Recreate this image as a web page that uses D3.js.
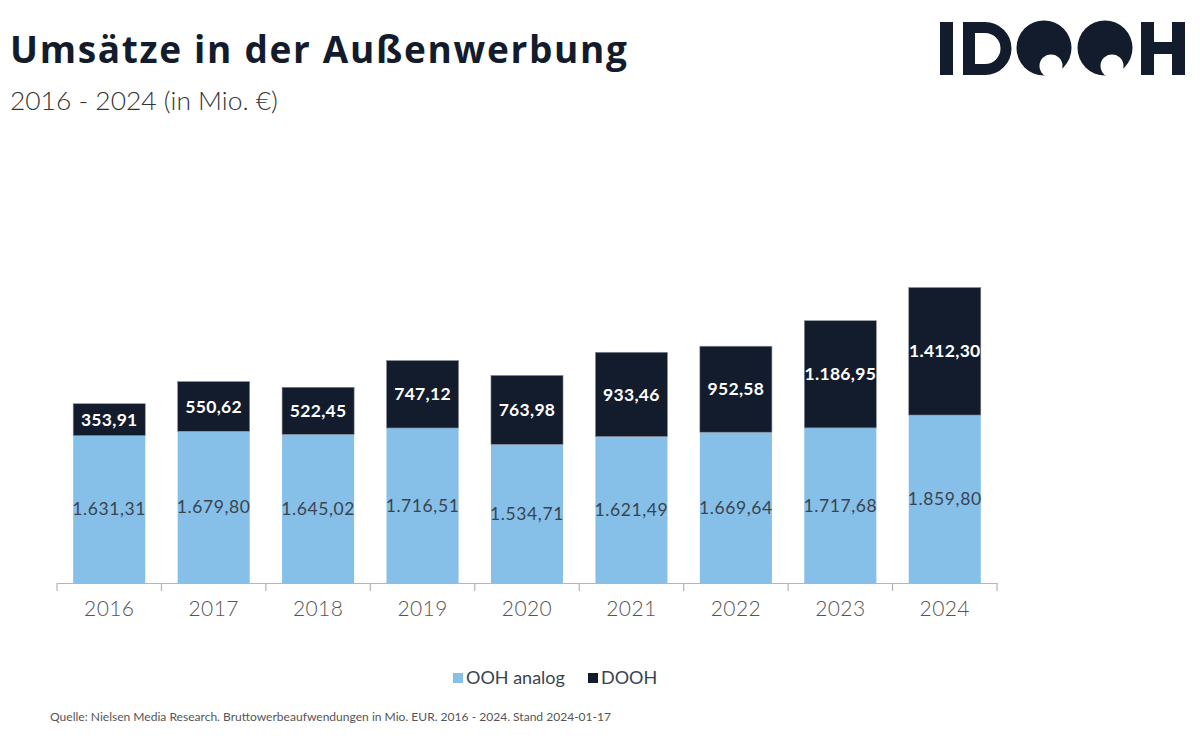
<!DOCTYPE html>
<html><head><meta charset="utf-8">
<script src="https://cdn.jsdelivr.net/npm/d3@7"></script>
<style>
html,body{margin:0;padding:0;background:#fff;}
svg{display:block;font-family:Lato,"Open Sans",sans-serif;}
</style></head>
<body>
<svg id="c" width="1200" height="750"></svg>
<script>
const years = ["2016","2017","2018","2019","2020","2021","2022","2023","2024"];
const oohAnalog = [1631.31,1679.80,1645.02,1716.51,1534.71,1621.49,1669.64,1717.68,1859.80];
const dooh = [353.91,550.62,522.45,747.12,763.98,933.46,952.58,1186.95,1412.30];
const seriesNames = ["OOH analog","DOOH"];
const colors = ["#86BFE8","#131C2C"];

const svg = d3.select("#c");
const loc = d3.formatLocale({decimal:",",thousands:".",grouping:[3],currency:["","€"]});
const fmt = loc.format(",.2f");

// Title
const titleStr = "Umsätze in der Außenwerbung";
const title = svg.append("text").attr("x",10).attr("y",63)
  .attr("font-size",37).attr("font-weight",700).attr("fill","#131C2C")
  .attr("font-family","'Open Sans',Lato,sans-serif")
  .text(titleStr);
const tw = title.node().getComputedTextLength();
if (tw < 617) title.attr("letter-spacing", (617-tw)/(titleStr.length-1));
else title.attr("font-size", 37*617/tw);
const sub = svg.append("text").attr("x",10).attr("y",110)
  .attr("font-size",25).attr("font-weight",300).attr("fill","#333")
  .text("2016 - 2024 (in Mio. €)");
const sw = sub.node().getComputedTextLength();
sub.attr("font-size", 25*268/sw);

// Logo
const logo = svg.append("g").attr("fill","#131C2C");
logo.append("rect").attr("x",940).attr("y",22).attr("width",13).attr("height",53);
logo.append("path").attr("d","M963,22 L985,22 A26.5,26.5 0 0 1 985,75 L963,75 Z M975,33 L985,33 A15.5,15.5 0 0 1 985,64 L975,64 Z")
  .attr("fill-rule","evenodd");
const defs = svg.append("defs");
[[1044,48],[1105,48]].forEach((c,i)=>{
  const m = defs.append("mask").attr("id","m"+i);
  m.append("rect").attr("x",900).attr("y",0).attr("width",300).attr("height",100).attr("fill","#fff");
  m.append("circle").attr("cx",c[0]+7).attr("cy",c[1]+18).attr("r",11.5).attr("fill","#000");
  logo.append("circle").attr("cx",c[0]).attr("cy",c[1]).attr("r",27.5).attr("mask","url(#m"+i+")");
});
logo.append("rect").attr("x",1141).attr("y",22).attr("width",13).attr("height",53);
logo.append("rect").attr("x",1172).attr("y",22).attr("width",13).attr("height",53);
logo.append("rect").attr("x",1150).attr("y",42).attr("width",25).attr("height",12);

// Scales
const x = d3.scaleBand().domain(years).range([57,997]).paddingInner(0.31).paddingOuter(0.155);
const y = d3.scaleLinear().domain([0,3300]).range([583,583-298]);

const data = years.map((yr,i)=>({year:yr, a:oohAnalog[i], d:dooh[i]}));

const g = svg.append("g");
g.selectAll(".a").data(data).join("rect")
  .attr("x",d=>x(d.year)).attr("width",x.bandwidth())
  .attr("y",d=>y(d.a)).attr("height",d=>y(0)-y(d.a)).attr("fill",colors[0]);
g.selectAll(".d").data(data).join("rect")
  .attr("x",d=>x(d.year)).attr("width",x.bandwidth())
  .attr("y",d=>y(d.a+d.d)).attr("height",d=>y(d.a)-y(d.a+d.d)).attr("fill",colors[1])
  .attr("stroke","#8a8f96").attr("stroke-width",0.6);

g.selectAll(".la").data(data).join("text")
  .attr("x",d=>x(d.year)+x.bandwidth()/2).attr("y",d=>(y(0)+y(d.a))/2)
  .attr("dy","0.35em").attr("text-anchor","middle").attr("font-size",17.5)
  .attr("fill","#3a4450").attr("letter-spacing",0.6).text(d=>fmt(d.a));
g.selectAll(".ld").data(data).join("text")
  .attr("x",d=>x(d.year)+x.bandwidth()/2).attr("y",d=>(y(d.a)+y(d.a+d.d))/2)
  .attr("dy","0.35em").attr("text-anchor","middle").attr("font-size",17.5).attr("font-weight",700)
  .attr("fill","#fff").attr("letter-spacing",0.3).text(d=>fmt(d.d));

// axis
const ax = svg.append("g").attr("transform","translate(0,583)")
  .call(d3.axisBottom(x).tickSize(0).tickPadding(18).tickSizeOuter(0));
ax.select(".domain").attr("stroke","#b5b5b5").attr("stroke-width",1.2);
ax.selectAll("text").attr("font-size",21).attr("fill","#555").attr("font-family","Lato,sans-serif").attr("font-weight",300).attr("letter-spacing",0.4);
const bounds = years.map(yr=>x(yr)-x.step()*x.paddingInner()/2).concat([x(years[years.length-1])+x.bandwidth()+x.step()*x.paddingInner()/2]);
ax.selectAll(".bt").data(bounds).join("line")
  .attr("x1",d=>d).attr("x2",d=>d).attr("y1",0).attr("y2",8)
  .attr("stroke","#b5b5b5").attr("stroke-width",1.2);

// legend
const leg = svg.append("g").attr("font-size",18).attr("fill","#3a4450");
const legX = [453,588];
seriesNames.forEach((n,i)=>{
  leg.append("rect").attr("x",legX[i]).attr("y",673).attr("width",10).attr("height",10).attr("fill",colors[i]);
  leg.append("text").attr("x",legX[i]+13).attr("y",678).attr("dy","0.35em").attr("fill","#3a4450").text(n);
});

// footer
const ft = svg.append("text").attr("x",50).attr("y",721).attr("font-size",11.5).attr("fill","#555")
  .text("Quelle: Nielsen Media Research. Bruttowerbeaufwendungen in Mio. EUR. 2016 - 2024. Stand 2024-01-17");
ft.attr("font-size", 11.5*562/ft.node().getComputedTextLength());
</script>
</body></html>
